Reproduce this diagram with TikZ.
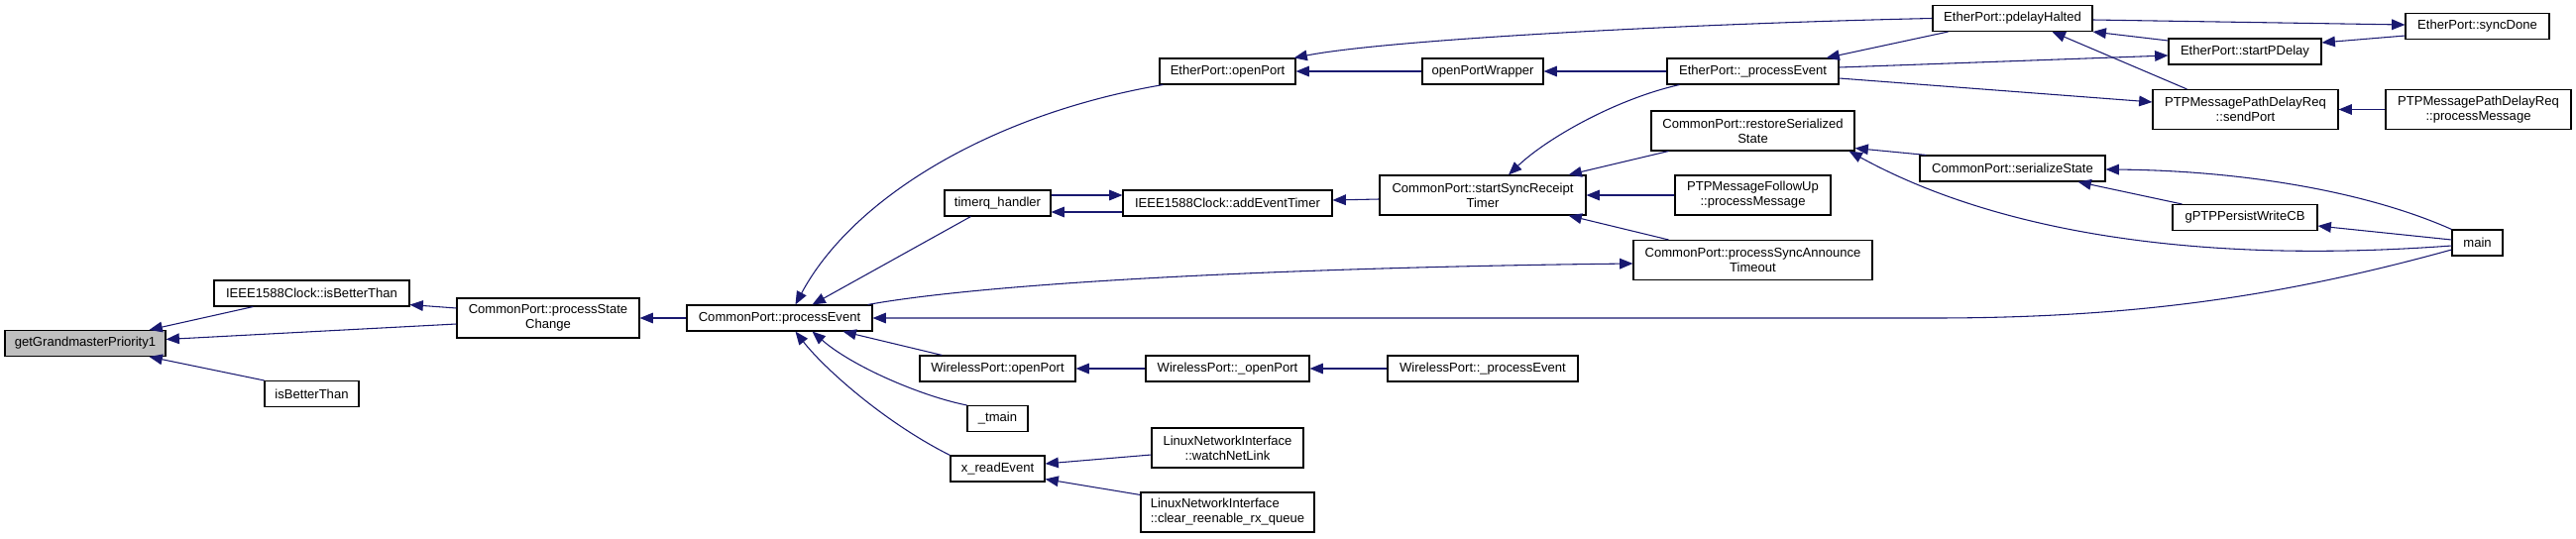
\documentclass[tikz,border=0pt]{standalone}
\usepackage{fontspec}
\setmainfont{Liberation Sans}
\usetikzlibrary{arrows.meta,calc}
\definecolor{callblue}{HTML}{191970}
\definecolor{rootgray}{HTML}{BFBFBF}

\begin{document}
\begin{tikzpicture}[x=0.75pt,y=-0.75pt,
  font=\fontsize{9.8}{11.25}\selectfont,
  fn/.style={draw=black,line width=0.8pt,fill=white,inner sep=0pt,minimum height=19.5pt,align=center},
  fn2/.style={fn,minimum height=30pt},
  call/.style={draw=callblue,line width=0.8pt,-{Triangle[length=10pt,width=8pt]}}]
\useasboundingbox (0,0) rectangle (2599,543);
% functions
\node[fn,fill=rootgray,minimum width=121.5pt] (gp1) at (86,346.5) {getGrandmasterPriority1};
\node[fn,minimum width=147.75pt] (clkbetter) at (314.5,296) {IEEE1588Clock::isBetterThan};
\node[fn,minimum width=71.25pt] (isbetter) at (314.5,397.5) {isBetterThan};
\node[fn2,minimum width=138pt] (pstate) at (553,321) {CommonPort::processState\\Change};
\node[fn,minimum width=140.25pt] (pevent) at (786.5,321) {CommonPort::processEvent};
\node[fn,minimum width=102.75pt] (eopen) at (1238.5,72) {EtherPort::openPort};
\node[fn,minimum width=91.5pt] (wrapper) at (1496,72) {openPortWrapper};
\node[fn,minimum width=80.25pt] (timerq) at (1006.5,205) {timerq\_handler};
\node[fn,minimum width=158.25pt] (addtimer) at (1238.5,205) {IEEE1588Clock::addEventTimer};
\node[fn2,minimum width=156pt] (startsync) at (1496,197) {CommonPort::startSyncReceipt\\Timer};
\node[fn,minimum width=117.75pt] (wopen) at (1006.5,372) {WirelessPort::openPort};
\node[fn,minimum width=123.75pt] (wpopen) at (1238.5,372) {WirelessPort::\_openPort};
\node[fn,minimum width=144pt] (wproc) at (1496,372) {WirelessPort::\_processEvent};
\node[fn,minimum width=45.75pt] (tmain) at (1006.5,422.5) {\_tmain};
\node[fn,minimum width=71.25pt] (xread) at (1006.5,473) {x\_readEvent};
\node[fn2,minimum width=114.75pt] (watch) at (1238.5,452) {LinuxNetworkInterface\\::watchNetLink};
\node[fn2,minimum width=131.25pt,align=left] (clear) at (1238.5,517) {LinuxNetworkInterface\\::clear\_reenable\_rx\_queue};
\node[fn,minimum width=120.75pt] (pdelay) at (2030.5,18.5) {EtherPort::pdelayHalted};
\node[fn,minimum width=129.75pt] (eproc) at (1768.5,72) {EtherPort::\_processEvent};
\node[fn2,minimum width=153.75pt] (restore) at (1768.5,132) {CommonPort::restoreSerialized\\State};
\node[fn,minimum width=140.25pt] (serial) at (2030.5,170) {CommonPort::serializeState};
\node[fn2,minimum width=117.75pt] (followup) at (1768.5,197) {PTPMessageFollowUp\\::processMessage};
\node[fn2,minimum width=180.75pt] (announce) at (1768.5,262.5) {CommonPort::processSyncAnnounce\\Timeout};
\node[fn,minimum width=108.75pt] (syncdone) at (2499.5,26.5) {EtherPort::syncDone};
\node[fn,minimum width=115.5pt] (startpd) at (2265,52) {EtherPort::startPDelay};
\node[fn2,minimum width=140.25pt] (sendport) at (2265.5,110.5) {PTPMessagePathDelayReq\\::sendPort};
\node[fn2,minimum width=140.25pt] (pdmsg) at (2500.5,110.5) {PTPMessagePathDelayReq\\::processMessage};
\node[fn,minimum width=109.5pt] (persist) at (2265,219.5) {gPTPPersistWriteCB};
\node[fn,minimum width=38.25pt] (main) at (2499.5,245) {main};
% callers of getGrandmasterPriority1
\draw[call] ($(clkbetter.south west)+(40,0)$) -- ($(gp1.north east)+(-17,0)$);
\draw[call] ($(pstate.west)+(0,6)$) -- ($(gp1.east)+(0,-4)$);
\draw[call] (isbetter.north west) -- ($(gp1.south east)+(-17,0)$);
\draw[call] ($(pstate.west)+(0,-10)$) -- ($(clkbetter.south east)+(0,-2)$);
\draw[call] (pevent.west) -- (pstate.east);
% callers of processEvent
\draw[call] ($(eopen.south west)+(4,0)$) .. controls (1000,115) and (860,200) .. ($(pevent.north)+(16,0)$);
\draw[call] ($(timerq.south west)+(27,0)$) -- ($(pevent.north)+(33,0)$);
\draw[call] ($(pevent.north east)+(-5,0)$) .. controls (1000,285) and (1300,270) .. ($(announce.west)+(0,3.5)$);
\draw[call] ($(main.west)+(0,7)$) .. controls (2300,300) and (2150,321) .. (1950,321) -- (pevent.east);
\draw[call] ($(wopen.north west)+(23,0)$) -- ($(pevent.south)+(64,0)$);
\draw[call] (tmain.north west) .. controls (930,400) and (860,370) .. ($(pevent.south)+(33,0)$);
\draw[call] (xread.north west) .. controls (890,425) and (830,370) .. ($(pevent.south)+(16,0)$);
% openPort chain
\draw[call] (wrapper.west) -- (eopen.east);
\draw[call] (pdelay.west) .. controls (1700,24) and (1400,40) .. ($(eopen.north east)+(-2,0)$);
\draw[call] (eproc.west) -- (wrapper.east);
\draw[call] ($(pdelay.south west)+(16,0)$) -- ($(eproc.north east)+(-13,0)$);
\draw[call] ($(eproc.east)+(0,-4)$) -- ($(startpd.west)+(0,4)$);
\draw[call] ($(eproc.east)+(0,7)$) -- ($(sendport.west)+(0,-7.5)$);
% timers
\draw[call] ($(timerq.east)+(0,-8)$) -- ($(addtimer.west)+(0,-8)$);
\draw[call] ($(addtimer.west)+(0,9)$) -- ($(timerq.east)+(0,9)$);
\draw[call] ($(startsync.west)+(0,4)$) -- ($(addtimer.east)+(0,-3)$);
% startSyncReceiptTimer
\draw[call] ($(eproc.south west)+(13,0)$) .. controls (1630,100) and (1560,140) .. ($(startsync.north)+(26,0)$);
\draw[call] ($(restore.south west)+(18,0)$) -- ($(startsync.north east)+(-18,0)$);
\draw[call] (followup.west) -- (startsync.east);
\draw[call] ($(announce.north west)+(36,0)$) -- ($(startsync.south east)+(-18,0)$);
% wireless
\draw[call] (wpopen.west) -- (wopen.east);
\draw[call] (wproc.west) -- (wpopen.east);
% x_readEvent
\draw[call] ($(watch.west)+(0,7)$) -- ($(xread.east)+(0,-5)$);
\draw[call] ($(clear.north west)+(0,3)$) -- ($(xread.south east)+(0,-3)$);
% pdelayHalted
\draw[call] ($(pdelay.east)+(0,1.5)$) -- ($(syncdone.west)+(0,-1.5)$);
\draw[call] ($(startpd.west)+(0,-11)$) -- (pdelay.south east);
\draw[call] ($(syncdone.south west)+(0,-4)$) -- ($(startpd.east)+(0,-9)$);
\draw[call] ($(sendport.north west)+(35,0)$) -- ($(pdelay.south)+(40,0)$);
\draw[call] (pdmsg.west) -- (sendport.east);
% serialize
\draw[call] ($(serial.north west)+(7,0)$) -- ($(restore.south east)+(0,-3)$);
\draw[call] ($(main.west)+(0,3)$) .. controls (2150,272) and (1970,210) .. ($(restore.south east)+(-6,0)$);
\draw[call] (main.north west) .. controls (2380,190) and (2250,172) .. ($(serial.east)+(0,1)$);
\draw[call] ($(main.west)+(0,-3)$) -- ($(persist.east)+(0,8.5)$);
\draw[call] ($(persist.north west)+(10,0)$) -- ($(serial.south)+(66,0)$);
\end{tikzpicture}
\end{document}
